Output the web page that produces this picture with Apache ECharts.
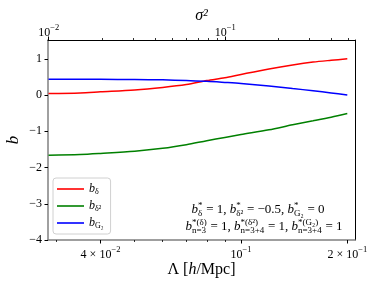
<!DOCTYPE html>
<html><head><meta charset="utf-8">
<script src="https://cdn.jsdelivr.net/npm/echarts@6/dist/echarts.min.js"></script>
<style>html,body{margin:0;padding:0;background:#fff}#c{width:379px;height:286px}</style>
</head><body><div id="c"></div>
<script>
// ---- data ----
const lambda  = [0.0285, 0.035, 0.04, 0.05, 0.06, 0.07, 0.08, 0.09, 0.1, 0.12, 0.14, 0.16, 0.18, 0.2];
const bDelta  = [0.04, 0.06, 0.09, 0.14, 0.21, 0.29, 0.40, 0.48, 0.57, 0.72, 0.83, 0.91, 0.96, 1.0];
const bDelta2 = [-1.66, -1.64, -1.61, -1.55, -1.47, -1.37, -1.26, -1.17, -1.09, -0.96, -0.82, -0.71, -0.61, -0.51];
const bG2     = [0.44, 0.437, 0.435, 0.43, 0.42, 0.40, 0.38, 0.35, 0.32, 0.25, 0.18, 0.12, 0.06, 0.0];
const seriesNames = ['b_delta', 'b_delta2', 'b_G2'];
const legendSubs = ['δ', 'δ²', 'G₂'];
const xTicks = [0.04, 0.1, 0.2];
const xTickLabels = [['4 × 10', '−2'], ['10', '−1'], ['2 × 10', '−1']];
const xMinorTicks = [0.03, 0.05, 0.06, 0.07, 0.08, 0.09];
const topTicks = [0.01, 0.1];
const topTickLabels = [['10', '−2'], ['10', '−1']];
const topMinorTicks = [0.02, 0.03, 0.04, 0.05, 0.06, 0.07, 0.08, 0.09, 0.2, 0.3, 0.4, 0.5];
const yTicks = [-4, -3, -2, -1, 0, 1];
const yTickLabels = ['−4', '−3', '−2', '−1', '0', '1'];

// ---- styling ----
const serif = '"Liberation Serif", "DejaVu Serif", serif';
const colors = ['#ff0000', '#008000', '#0000ff'];
const tickRich = {
  m: {fontFamily: serif, fontSize: 12, lineHeight: 16, verticalAlign: 'bottom', color: '#000'},
  s: {fontFamily: serif, fontSize: 8.5, lineHeight: 10, verticalAlign: 'top', color: '#000'}
};
function findIdx(arr, v) { return arr.findIndex(t => Math.abs(t - v) / Math.abs(t) < 1e-6); }
function supFmt(ticks, labels) {
  return v => { const i = findIdx(ticks, v); return i < 0 ? '' : '{m|' + labels[i][0] + '}{s|' + labels[i][1] + '}'; };
}

const chart = echarts.init(document.getElementById('c'), null, {renderer: 'canvas'});

// annotation layout using measured text widths
const ctx = document.createElement('canvas').getContext('2d');
function fontStr(size, it) { return (it ? 'italic ' : '') + size + 'px ' + serif; }
function measure(t, size, it) { ctx.font = fontStr(size, it); return ctx.measureText(t).width; }
const MAIN = 13, SCR = 9;
const annLines = [
  [['b', 1], {sup: '*', sub: 'δ'}, [' = 1, '], ['b', 1], {sup: '*', sub: 'δ²'}, [' = −0.5, '], ['b', 1], {sup: '*', sub: 'G₂'}, [' = 0']],
  [['b', 1], {sup: '*(δ)', sub: 'n=3'}, [' = 1, '], ['b', 1], {sup: '*(δ²)', sub: 'n=3+4'}, [' = 1, '], ['b', 1], {sup: '*(G₂)', sub: 'n=3+4'}, [' = 1']]
];
function layoutLine(segs, cx, baseline) {
  const items = []; let w = 0;
  segs.forEach(s => {
    if (Array.isArray(s)) {
      const ww = measure(s[0], MAIN, !!s[1]);
      items.push({t: s[0], x: w, size: MAIN, it: !!s[1], dy: 0}); w += ww;
    } else {
      const w1 = measure(s.sup, SCR, false), w2 = measure(s.sub, SCR, false);
      items.push({t: s.sup, x: w, size: SCR, it: false, dy: -5.5});
      items.push({t: s.sub, x: w, size: SCR, it: false, dy: 3});
      w += Math.max(w1, w2) + 0.5;
    }
  });
  const x0 = cx - w / 2;
  return items.map(it => ({
    type: 'text', x: x0 + it.x, y: baseline + it.dy - 0.33 * it.size,
    style: {text: it.t, font: fontStr(it.size, it.it), fill: '#000', textAlign: 'left', textVerticalAlign: 'middle'}
  }));
}
const graphics = [].concat(layoutLine(annLines[0], 258, 214), layoutLine(annLines[1], 264, 231));

const mk = arr => lambda.map((x, i) => [x, arr[i]]);
const seriesVals = [bDelta, bDelta2, bG2];

const option = {
  animation: false,
  backgroundColor: '#fff',
  grid: {left: 48, right: 24, top: 40, bottom: 46, containLabel: false, outerBoundsMode: 'none'},
  xAxis: [
    {type: 'log', logBase: 10, min: 0.0284, max: 0.2103, position: 'bottom', splitLine: {show: false},
     axisLine: {show: true, onZero: false, lineStyle: {color: '#808080', width: 1.5}},
     axisTick: {show: true, length: 3.5, customValues: xTicks, lineStyle: {color: '#000', width: 1}},
     axisLabel: {customValues: xTicks, margin: 5, formatter: supFmt(xTicks, xTickLabels), rich: tickRich},
     name: '{r|Λ [}{i|h}{r|/Mpc]}', nameLocation: 'middle', nameGap: 22, nameMoveOverlap: false,
     nameTextStyle: {rich: {r: {fontFamily: serif, fontSize: 16, color: '#000'}, i: {fontFamily: serif, fontStyle: 'italic', fontSize: 16, color: '#000'}}}},
    {type: 'log', logBase: 10, min: 0.0284, max: 0.2103, position: 'bottom', splitLine: {show: false},
     axisLine: {show: false, onZero: false}, axisLabel: {show: false},
     axisTick: {show: true, length: 2, customValues: xMinorTicks, lineStyle: {color: '#000', width: 0.8}}},
    {type: 'log', logBase: 10, min: 0.00991, max: 0.5436, position: 'top', splitLine: {show: false},
     axisLine: {show: true, onZero: false, lineStyle: {color: '#000', width: 1}},
     axisTick: {show: true, length: 3.5, customValues: topTicks, lineStyle: {color: '#000', width: 1}},
     axisLabel: {customValues: topTicks, margin: 1, formatter: supFmt(topTicks, topTickLabels), rich: tickRich},
     name: 'σ²', nameLocation: 'middle', nameGap: 16, nameMoveOverlap: false,
     nameTextStyle: {fontFamily: serif, fontStyle: 'italic', fontSize: 16, color: '#000'}},
    {type: 'log', logBase: 10, min: 0.00991, max: 0.5436, position: 'top', splitLine: {show: false},
     axisLine: {show: false, onZero: false}, axisLabel: {show: false},
     axisTick: {show: true, length: 2, customValues: topMinorTicks, lineStyle: {color: '#000', width: 0.8}}}
  ],
  yAxis: [
    {type: 'value', min: -4, max: 1.52, interval: 1, position: 'left', splitLine: {show: false},
     axisLine: {show: true, onZero: false, lineStyle: {color: '#808080', width: 1.5}},
     axisTick: {show: true, length: 3.5, customValues: yTicks, lineStyle: {color: '#000'}},
     axisLabel: {customValues: yTicks, margin: 6, fontFamily: serif, fontSize: 12, color: '#000',
       formatter: v => { const i = yTicks.indexOf(Math.round(v)); return (Math.abs(v - Math.round(v)) < 1e-6 && i >= 0) ? yTickLabels[i] : ''; }},
     name: 'b', nameLocation: 'middle', nameGap: 26, nameRotate: 90, nameMoveOverlap: false,
     nameTextStyle: {fontFamily: serif, fontStyle: 'italic', fontSize: 17, color: '#000'}},
    {type: 'value', min: -4, max: 1.52, position: 'right', splitLine: {show: false},
     axisLine: {show: true, onZero: false, lineStyle: {color: '#000', width: 1}}, axisTick: {show: false}, axisLabel: {show: false}}
  ],
  legend: {
    orient: 'vertical', left: 53, top: 178, itemWidth: 27, itemHeight: 1.6, itemGap: 3, icon: 'rect',
    padding: [4, 7, 4, 4], borderColor: '#d0d0d0', borderWidth: 1, borderRadius: 3,
    backgroundColor: 'rgba(255,255,255,0.8)',
    data: seriesNames,
    formatter: n => '{b|b}{d|' + legendSubs[seriesNames.indexOf(n)] + '}',
    textStyle: {lineHeight: 14, rich: {
      b: {fontFamily: serif, fontStyle: 'italic', fontSize: 12, lineHeight: 14, color: '#000'},
      d: {fontFamily: serif, fontSize: 8, lineHeight: 9, verticalAlign: 'bottom', color: '#000'}
    }}
  },
  series: seriesNames.map((n, k) => ({
    name: n, type: 'line', xAxisIndex: 0, yAxisIndex: 0, data: mk(seriesVals[k]),
    showSymbol: false, smooth: 0.3, lineStyle: {color: colors[k], width: 1.5}, itemStyle: {color: colors[k]}
  })),
  graphic: graphics
};
chart.setOption(option);
</script>
</body></html>
